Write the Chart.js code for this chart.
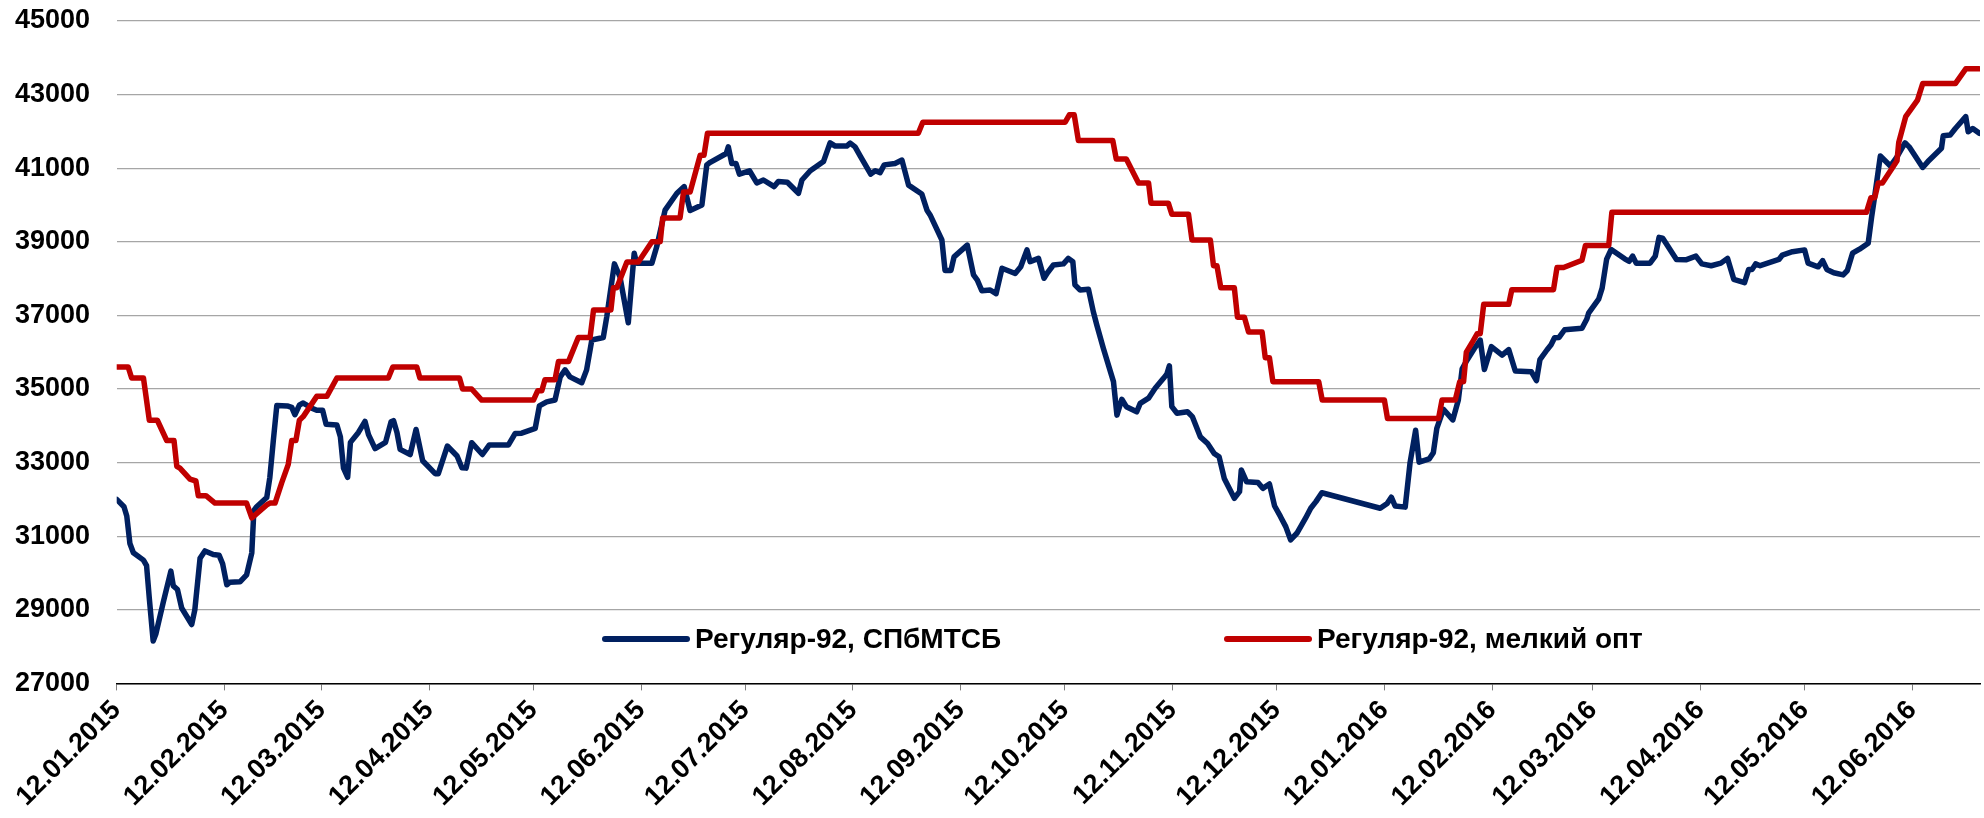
<!DOCTYPE html>
<html>
<head>
<meta charset="utf-8">
<script src="https://cdn.jsdelivr.net/npm/chart.js@4.4.1/dist/chart.umd.min.js"></script>
<style>
    html, body { margin: 0; padding: 0; background: #ffffff; }
    #wrap { width: 1984px; height: 818px; }
</style>
</head>
<body>
<div id="wrap"><canvas id="myChart" width="1984" height="818"></canvas></div>
<script>
// days are counted from 12.01.2015
var startDate = "12.01.2015";
var tickLabels = ["12.01.2015", "12.02.2015", "12.03.2015", "12.04.2015", "12.05.2015", "12.06.2015",
    "12.07.2015", "12.08.2015", "12.09.2015", "12.10.2015", "12.11.2015", "12.12.2015",
    "12.01.2016", "12.02.2016", "12.03.2016", "12.04.2016", "12.05.2016", "12.06.2016"];
var lastDay = 536.5;

var blueName = "Регуляр-92, СПбМТСБ";
var redName = "Регуляр-92, мелкий опт";

var blueDays = [0, 2.1, 2.9, 3.8, 4.8, 7.7, 8.6, 9.4, 10.5, 11.3,
    13.4, 15.6, 16.3, 17.5, 18.7, 21.6, 22.5, 24, 25.4, 27.8,
    29.5, 30.5, 31.7, 32.6, 35.5, 37.4, 38.9, 39.5, 40.3, 43.2,
    44.1, 45.1, 46.1, 49.1, 50.4, 51.3, 52.6, 53.6, 56.2, 57.6,
    59.3, 60.3, 63.4, 64.4, 65.3, 66.5, 67.3, 69.6, 71.5, 72.5,
    74.4, 77.4, 79, 79.7, 80.7, 81.6, 84.5, 86.2, 88.1, 91.7,
    92.6, 95.2, 98, 99.4, 100.6, 102.2, 105.3, 107.3, 112.8, 114.7,
    116.6, 120.5, 121.7, 123.8, 126.2, 127.7, 129.1, 130.5, 133.9, 135.3,
    136.8, 140.1, 141.1, 143.3, 144.9, 147.3, 149, 149.7, 154.1, 155.5,
    157.9, 161.3, 163.4, 165.1, 168.5, 169.9, 170.9, 175.5, 176.1, 177.1,
    178.3, 179.3, 182.2, 184.3, 186.2, 189.3, 190.5, 193.1, 196.3, 197.3,
    199.7, 203.5, 205.4, 206.9, 210.2, 211.2, 212.6, 214.1, 217.1, 218.4,
    219.8, 221, 224.1, 226.1, 228, 231.8, 233.3, 234.2, 237.6, 238.5,
    240.2, 241.1, 244.9, 246.7, 247.8, 249.1, 251.5, 253.2, 254.9, 258.7,
    260.3, 262.1, 263, 265.4, 267, 268, 269.7, 272.6, 274, 275.3,
    275.9, 277.4, 279.8, 281.2, 282.2, 284.1, 287, 288, 289.4, 290.7,
    293.7, 294.7, 297.1, 299, 301.4, 302.4, 303.1, 303.8, 305.3, 308.3,
    309.7, 312, 314.1, 316, 317.4, 318.9, 321.8, 323.3, 323.8, 325.3,
    328.6, 330, 331.9, 333.4, 335.1, 336.6, 338, 339.8, 342.3, 343.8,
    345.3, 347, 363.8, 365.8, 367, 368.1, 371, 372.4, 374, 375,
    377.9, 379.1, 380.1, 382, 384.7, 386.3, 387.4, 388.6, 390.9, 392.6,
    393.8, 395.8, 398.9, 400.8, 402.7, 407.3, 408.8, 409.8, 411.8, 413,
    414, 415.3, 416.9, 421.9, 423.3, 423.8, 426.7, 427.7, 429, 430.3,
    434.3, 435.5, 436.5, 437.5, 441.5, 443, 444.1, 445.1, 449.1, 451.8,
    454.7, 456.4, 459.1, 461.9, 463.8, 465.6, 468.7, 469.9, 470.9, 471.9,
    473.2, 478.6, 479.6, 482.5, 486, 487, 489.9, 491.2, 492.4, 494.4,
    497.1, 498.3, 499.8, 501.8, 504.3, 505.3, 506.3, 507.8, 510.7, 512.6,
    514.9, 516.1, 520, 521.5, 525.4, 525.9, 527.9, 529.4, 532.4, 533.1,
    534.4, 536.3];
var blueValues = [32000, 31800, 31550, 30800, 30550, 30350, 30200, 29300, 28150, 28350,
    29200, 30050, 29650, 29550, 29050, 28600, 29000, 30400, 30600, 30500,
    30480, 30250, 29680, 29750, 29760, 29950, 30550, 31700, 31800, 32050,
    32600, 33600, 34550, 34540, 34500, 34300, 34560, 34620, 34480, 34420,
    34420, 34040, 34020, 33700, 32850, 32600, 33550, 33820, 34120, 33760,
    33380, 33550, 34110, 34140, 33820, 33360, 33220, 33900, 33050, 32700,
    32700, 33450, 33180, 32860, 32850, 33540, 33220, 33480, 33480, 33790,
    33800, 33930, 34540, 34650, 34700, 35330, 35520, 35330, 35170, 35520,
    36330, 36400, 36960, 38400, 38050, 36800, 38690, 38420, 38420, 38870,
    39860, 40320, 40500, 39850, 40000, 41090, 41160, 41400, 41580, 41130,
    41130, 40840, 40930, 40600, 40680, 40500, 40640, 40620, 40320, 40680,
    40930, 41180, 41690, 41600, 41600, 41680, 41580, 41330, 40840, 40930,
    40880, 41090, 41130, 41220, 40540, 40300, 39860, 39730, 39050, 38220,
    38220, 38590, 38910, 38100, 37960, 37670, 37690, 37590, 38280, 38140,
    38320, 38780, 38460, 38550, 38010, 38160, 38370, 38400, 38550, 38460,
    37830, 37690, 37710, 37100, 36740, 36100, 35200, 34290, 34720, 34520,
    34380, 34610, 34750, 35020, 35290, 35410, 35630, 34520, 34340, 34380,
    34250, 33700, 33520, 33250, 33160, 32570, 32030, 32210, 32800, 32480,
    32460, 32300, 32420, 31820, 31530, 31260, 30900, 31080, 31490, 31760,
    31940, 32180, 31760, 31890, 32060, 31820, 31790, 33000, 33880, 33010,
    33100, 33270, 33930, 34450, 34160, 34700, 35550, 35750, 36100, 36330,
    35530, 36150, 35920, 36070, 35490, 35470, 35230, 35800, 36060, 36200,
    36390, 36400, 36610, 36650, 36900, 37060, 37440, 37740, 38530, 38790,
    38530, 38470, 38610, 38420, 38420, 38610, 39120, 39100, 38520, 38510,
    38610, 38400, 38350, 38420, 38550, 37980, 37890, 38250, 38250, 38400,
    38350, 38520, 38640, 38730, 38780, 38420, 38320, 38490, 38250, 38160,
    38100, 38220, 38690, 38800, 38960, 39680, 40320, 41330, 41060, 41310,
    41690, 41580, 41020, 41180, 41540, 41880, 41900, 42080, 42400, 41990,
    42080, 41950];

var redDays = [0, 3.3, 4.3, 7.7, 9.4, 11.7, 14.4, 16.5, 17.3, 18.2,
    21.1, 22.8, 23.5, 25.7, 28.3, 37.4, 38.9, 43.2, 44.1, 45.6,
    47.5, 49.4, 50.4, 51.6, 52.6, 53.7, 57.6, 60.5, 63.4, 78.2,
    79.5, 86.4, 87.3, 98.7, 99.6, 102.2, 105.1, 120, 121.2, 122.4,
    123.3, 126.2, 127.2, 130.1, 132.9, 136.3, 137.3, 142.3, 143, 144,
    146.9, 150.2, 154.1, 156.5, 157.2, 162.2, 163.2, 165.1, 168, 169.1,
    170.1, 230.8, 232.1, 273.1, 274.3, 275.7, 276.9, 286.8, 287.8, 290.7,
    294.2, 297.1, 297.8, 302.8, 303.8, 308.6, 309.6, 314.9, 315.8, 316.8,
    317.9, 321.8, 322.7, 324.7, 325.9, 329.8, 330.7, 331.9, 332.9, 346.1,
    347.1, 365, 365.9, 380.6, 381.6, 385.4, 386.7, 387.8, 388.6, 390.2,
    391.7, 392.6, 393.6, 400.8, 401.7, 413.7, 414.7, 416.6, 421.9, 422.9,
    429.6, 430.5, 503.8, 505.1, 506.2, 507.2, 508.4, 511.2, 512.6, 513.1,
    515.1, 518.5, 520, 529.4, 532.4, 536.3];
var redValues = [35600, 35600, 35300, 35300, 34150, 34150, 33600, 33600, 32900, 32850,
    32550, 32500, 32100, 32100, 31900, 31900, 31500, 31850, 31900, 31900,
    32450, 32950, 33600, 33600, 34150, 34250, 34800, 34800, 35300, 35300,
    35600, 35600, 35300, 35300, 35000, 35000, 34700, 34700, 34950, 34950,
    35250, 35250, 35750, 35750, 36400, 36400, 37150, 37150, 37750, 37750,
    38450, 38450, 39000, 39000, 39650, 39650, 40350, 40350, 41350, 41350,
    41950, 41950, 42250, 42250, 42450, 42450, 41750, 41750, 41250, 41250,
    40600, 40600, 40050, 40050, 39750, 39750, 39050, 39050, 38350, 38350,
    37750, 37750, 36950, 36950, 36550, 36550, 35850, 35850, 35200, 35200,
    34700, 34700, 34200, 34200, 34700, 34700, 35200, 35200, 36000, 36250,
    36500, 36500, 37300, 37300, 37700, 37700, 38300, 38300, 38500, 38900,
    38900, 39800, 39800, 40200, 40200, 40600, 40600, 41000, 41200, 41700,
    42400, 42850, 43300, 43300, 43700, 43700];

var blueColor = "#002060";
var redColor = "#c00000";
var fontFamily = '"Liberation Sans", Arial, sans-serif';

function dayOffset(label) {
    var p = label.split(".");
    var s = startDate.split(".");
    var t0 = Date.UTC(parseInt(s[2]), parseInt(s[1]) - 1, parseInt(s[0]));
    var t = Date.UTC(parseInt(p[2]), parseInt(p[1]) - 1, parseInt(p[0]));
    return (t - t0) / 86400000;
}

function toPoints(days, values) {
    var pts = [];
    for (var i = 0; i < days.length; i++) {
        pts.push({ x: days[i], y: values[i] });
    }
    return pts;
}

var tickDays = tickLabels.map(dayOffset);

// legend sits inside the plot, under the lines
var insideLegend = {
    id: 'insideLegend',
    afterDraw: function(chart) {
        var ctx = chart.ctx;
        var items = [
            { x: 605, text: blueName, color: blueColor },
            { x: 1227, text: redName, color: redColor }
        ];
        var y = 639;
        ctx.save();
        ctx.font = 'bold 28px ' + fontFamily;
        ctx.textBaseline = 'middle';
        ctx.textAlign = 'left';
        for (var i = 0; i < items.length; i++) {
            ctx.beginPath();
            ctx.strokeStyle = items[i].color;
            ctx.lineWidth = 6;
            ctx.lineCap = 'round';
            ctx.moveTo(items[i].x, y);
            ctx.lineTo(items[i].x + 82, y);
            ctx.stroke();
            ctx.fillStyle = '#000000';
            ctx.fillText(items[i].text, items[i].x + 90, y + 1);
        }
        ctx.restore();
    }
};

var ctx = document.getElementById('myChart').getContext('2d');
var myChart = new Chart(ctx, {
    type: 'line',
    data: {
        datasets: [{
                label: blueName,
                data: toPoints(blueDays, blueValues),
                borderColor: blueColor,
                borderWidth: 5.5,
                pointRadius: 0,
                tension: 0,
                borderJoinStyle: 'round',
                borderCapStyle: 'round',
                order: 1
            },
            {
                label: redName,
                data: toPoints(redDays, redValues),
                borderColor: redColor,
                borderWidth: 5.5,
                pointRadius: 0,
                tension: 0,
                borderJoinStyle: 'round',
                borderCapStyle: 'round',
                order: 0
            }
        ]
    },
    options: {
        responsive: false,
        animation: false,
        events: [],
        layout: {
            padding: { left: 15, right: 4, top: 21, bottom: 0 }
        },
        plugins: {
            legend: { display: false },
            tooltip: { enabled: false }
        },
        scales: {
            x: {
                type: 'linear',
                min: 0,
                max: lastDay,
                afterBuildTicks: function(scale) {
                    scale.ticks = tickDays.map(function(d) { return { value: d }; });
                },
                afterFit: function(scale) {
                    scale.height = 134.6;
                },
                ticks: {
                    autoSkip: false,
                    maxRotation: 45,
                    minRotation: 45,
                    padding: 4,
                    color: '#000000',
                    font: { family: fontFamily, size: 27, weight: 'bold' },
                    callback: function(value) {
                        var i = tickDays.indexOf(value);
                        return i >= 0 ? tickLabels[i] : '';
                    }
                },
                grid: {
                    drawOnChartArea: false,
                    drawTicks: true,
                    tickLength: 7,
                    color: '#7f7f7f'
                },
                border: { display: true, color: '#000000', width: 1.5 }
            },
            y: {
                min: 27000,
                max: 45000,
                afterFit: function(scale) {
                    scale.width = 101.7;
                },
                ticks: {
                    stepSize: 2000,
                    padding: 0,
                    crossAlign: 'far',
                    color: '#000000',
                    font: { family: fontFamily, size: 27, weight: 'bold' },
                    callback: function(value) {
                        return String(value);
                    }
                },
                grid: {
                    color: '#a6a6a6',
                    lineWidth: 1.3,
                    drawTicks: false
                },
                border: { display: false }
            }
        }
    },
    plugins: [insideLegend]
});
</script>
</body>
</html>
